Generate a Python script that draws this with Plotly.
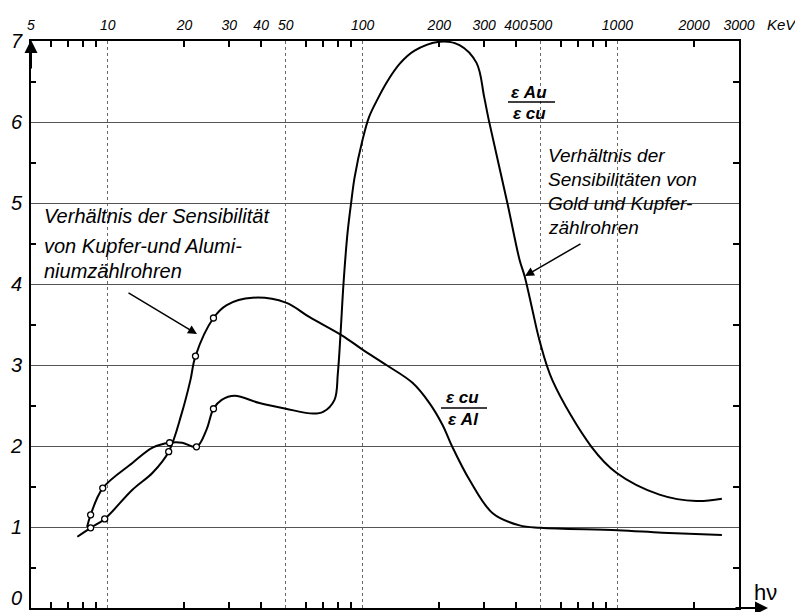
import math
import plotly.graph_objects as go

# ---------------- data ----------------
# photon energy h*nu in keV (log scale) and sensitivity ratios
cu_al_x = [7.6, 8.57, 9.73, 12.5, 15.0, 17.35, 19.5, 21.1, 22.1, 26.0, 29.3, 37.0,
           50, 62, 83.5, 100, 124, 157, 183, 206, 225, 263, 324, 413, 500, 1000, 1500, 2570]
cu_al_y = [0.88, 0.99, 1.10, 1.46, 1.67, 1.93, 2.40, 2.81, 3.11, 3.58, 3.74, 3.83,
           3.77, 3.59, 3.36, 3.19, 3.00, 2.78, 2.53, 2.26, 1.99, 1.58, 1.17, 1.02, 0.99, 0.96, 0.93, 0.90]

au_cu_x = [8.3, 8.57, 9.56, 12.5, 15.0, 17.5, 19.6, 22.3, 24.4, 26.0, 28.0, 31.5, 39.4,
           50, 64, 70, 77.6, 80, 82, 84.2, 87.3, 90.5, 93.1, 100, 106, 114, 125, 140, 160,
           200, 240, 280, 300, 313, 370, 413, 433, 464, 494, 556, 791, 991, 1462, 2040, 2570]
au_cu_y = [1.00, 1.15, 1.48, 1.79, 1.98, 2.04, 2.04, 1.99, 2.20, 2.46, 2.57, 2.62, 2.53,
           2.46, 2.40, 2.42, 2.57, 2.90, 3.40, 4.01, 4.63, 5.04, 5.32, 5.78, 6.06, 6.27, 6.50, 6.72, 6.88,
           6.99, 6.95, 6.73, 6.31, 6.02, 5.00, 4.30, 4.09, 3.68, 3.31, 2.81, 1.99, 1.67, 1.40, 1.32, 1.35]

# measured points (open circles)
cu_al_pts_x = [8.57, 9.73, 17.35, 22.1, 26.0]
cu_al_pts_y = [0.99, 1.10, 1.93, 3.11, 3.58]
au_cu_pts_x = [8.57, 9.56, 17.5, 22.3, 26.0]
au_cu_pts_y = [1.15, 1.48, 2.04, 1.99, 2.46]

# axis ticks
top_tick_vals = [5, 10, 20, 30, 40, 50, 100, 200, 300, 400, 500, 1000, 2000, 3000]
top_tick_text = ["5", "10", "20", "30", "40", "50", "100", "200", "300", "400", "500", "1000", "2000", "3000"]
grid_x_vals = [10, 50, 100, 500, 1000]
minor_x_vals = [6, 7, 8, 9, 20, 30, 40, 60, 70, 80, 90, 200, 300, 400, 600, 700, 800, 900, 2000]
y_tick_vals = [1, 2, 3, 4, 5, 6, 7]
y_zero_label = "0"
y_minor_vals = [0.5, 1.5, 2.5, 3.5, 4.5, 5.5, 6.5]

# ---------------- figure ----------------
# the page body has an 8 px margin, so the figure is made 8 px smaller
OFF = 8
W, H = 803 - OFF, 612 - OFF
PL, PR, PT, PB = 31, 739, 41, 608          # plot area in screen pixels
L, R, T, B = PL - OFF, W + OFF - PR, PT - OFF, H + OFF - PB
XR = [math.log10(5), math.log10(3000)]
TXT = "Liberation Sans, DejaVu Sans, sans-serif"


def px(xp):
    return (xp - PL) / (PR - PL)


def py(yp):
    return (PB - yp) / (PB - PT)


fig = go.Figure()
line_style = dict(color="black", width=2, shape="spline", smoothing=1.0)
fig.add_trace(go.Scatter(x=cu_al_x, y=cu_al_y, mode="lines", line=line_style,
                         xaxis="x", yaxis="y", hoverinfo="skip"))
fig.add_trace(go.Scatter(x=au_cu_x, y=au_cu_y, mode="lines", line=line_style,
                         xaxis="x2", yaxis="y", hoverinfo="skip"))
mk = dict(symbol="circle", size=6, color="white", line=dict(color="black", width=1.3))
fig.add_trace(go.Scatter(x=cu_al_pts_x, y=cu_al_pts_y, mode="markers", marker=mk,
                         xaxis="x", yaxis="y2", hoverinfo="skip"))
fig.add_trace(go.Scatter(x=au_cu_pts_x, y=au_cu_pts_y, mode="markers", marker=mk,
                         xaxis="x2", yaxis="y", hoverinfo="skip"))

minor_tick = dict(ticks="inside", ticklen=6, tickcolor="black", tickwidth=1.5, showgrid=False)
yfont = dict(family=TXT, size=20, color="black", style="italic")

fig.update_layout(
    width=W, height=H, autosize=False,
    margin=dict(l=L, r=R, t=T, b=B, pad=0),
    paper_bgcolor="white", plot_bgcolor="white",
    showlegend=False,
    xaxis=dict(type="log", range=XR, tickvals=grid_x_vals, ticks="", showticklabels=False,
               showgrid=True, gridcolor="#6a6a6a", gridwidth=1, griddash="dot",
               showline=True, linecolor="black", linewidth=2, mirror=True,
               minor=dict(tickvals=minor_x_vals, **minor_tick),
               zeroline=False, fixedrange=True, automargin=False),
    xaxis2=dict(type="log", range=XR, overlaying="x", side="top", anchor="y",
                tickvals=top_tick_vals, ticktext=top_tick_text, ticks="",
                minor=dict(tickvals=minor_x_vals, **minor_tick),
                showline=False, showgrid=False, zeroline=False, tickangle=0,
                tickfont=dict(family=TXT, size=14, color="black", style="italic"),
                ticklabelstandoff=7, fixedrange=True, automargin=False),
    yaxis=dict(range=[0, 7], tickvals=y_tick_vals, ticks="", showgrid=True,
               gridcolor="#555555", gridwidth=1,
               showline=True, linecolor="black", linewidth=2, mirror=True,
               minor=dict(tickvals=y_minor_vals, **dict(minor_tick, ticklen=5)),
               zeroline=False, tickangle=0, tickfont=yfont,
               ticklabelstandoff=3, fixedrange=True, automargin=False),
    yaxis2=dict(range=[0, 7], overlaying="y", side="right", anchor="x",
                tickvals=y_minor_vals, ticks="inside", ticklen=6, tickcolor="black", tickwidth=1.5,
                showticklabels=False, showgrid=False, showline=False, zeroline=False,
                fixedrange=True, automargin=False),
)


def label(xs, ys, text, font, xanchor="center"):
    return dict(xref="paper", yref="paper", x=px(xs), y=py(ys), text=text, showarrow=False,
                xanchor=xanchor, yanchor="middle", font=font)


def arrow(xs, ys, ax, ay, width=1.5, size=1.2):
    return dict(xref="paper", yref="paper", x=px(xs), y=py(ys), ax=ax, ay=ay, text="",
                showarrow=True, arrowhead=2, arrowsize=size, arrowwidth=width, arrowcolor="black")


ann = []
# axis arrows
ann.append(arrow(768, 608, -34, 0, width=2, size=1.3))
ann.append(arrow(31, 40, 0, 30, width=2, size=1.3))
# axis titles and the "0" at the origin (sits just above the axis line)
ann.append(label(782, 24, "KeV", dict(family=TXT, size=15, color="black", style="italic")))
ann.append(label(766, 592, "hν", dict(family=TXT, size=22, color="black")))
ann.append(label(16, 598, y_zero_label, yfont))

# left label block
left_lines = ["Verhältnis der Sensibilität", "von Kupfer-und Alumi-", "niumzählrohren"]
for t, yc in zip(left_lines, [216, 246, 271]):
    ann.append(label(42, yc, t, dict(family=TXT, size=20, color="black", style="italic"), "left"))
ann.append(arrow(197, 334, -70, -42))

# right label block
right_lines = ["Verhältnis der", "Sensibilitäten von", "Gold und Kupfer-", "zählrohren"]
for t, yc in zip(right_lines, [155, 179, 203, 227]):
    ann.append(label(546, yc, t, dict(family=TXT, size=19, color="black", style="italic"), "left"))
ann.append(arrow(525, 276, 57, -33))

# fraction labels
ffont = dict(family=TXT, size=17, color="black", style="italic")
ann.append(label(529, 92, "<b>ε Au</b>", ffont))
ann.append(label(529, 113, "<b>ε cu</b>", ffont))
ann.append(label(462, 397, "<b>ε cu</b>", ffont))
ann.append(label(463, 419, "<b>ε Al</b>", ffont))
fig.update_layout(annotations=ann)

fig.update_layout(shapes=[
    dict(type="line", xref="paper", yref="paper", x0=px(508), x1=px(555), y0=py(102), y1=py(102),
         line=dict(color="black", width=1.5)),
    dict(type="line", xref="paper", yref="paper", x0=px(441), x1=px(487), y0=py(408), y1=py(408),
         line=dict(color="black", width=1.5)),
])

fig.write_html("out.html")
